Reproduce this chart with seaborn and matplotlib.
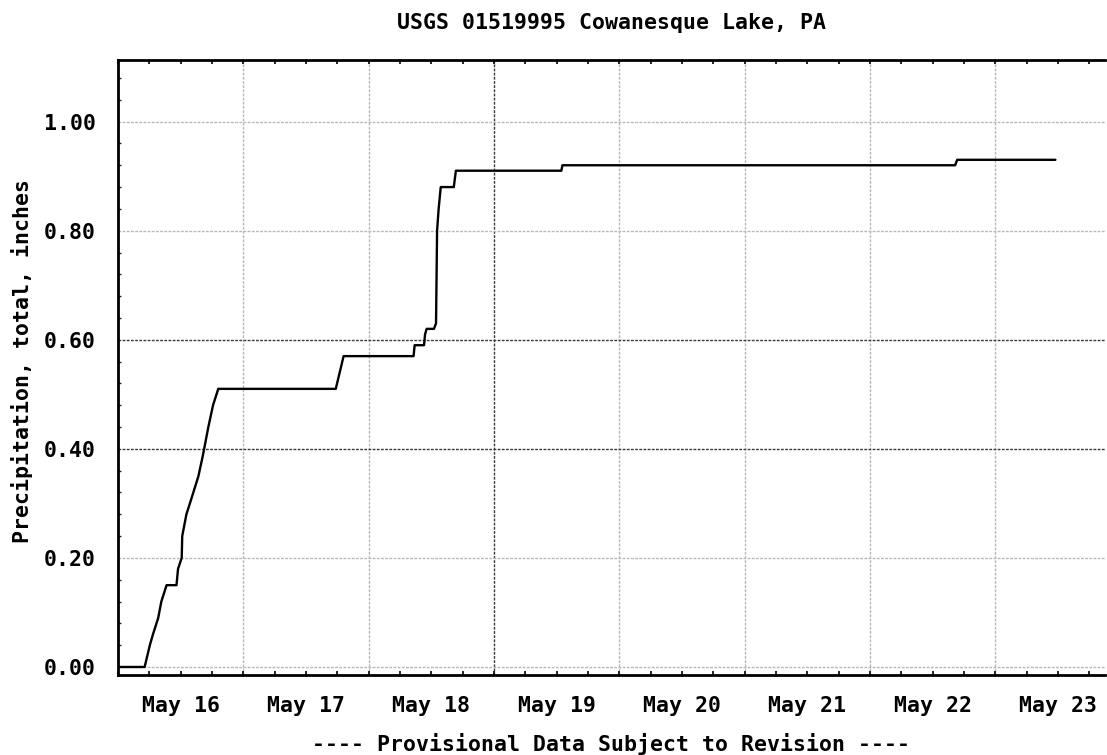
import matplotlib
matplotlib.use("Agg")
import matplotlib.pyplot as plt
import matplotlib.dates as mdates
from matplotlib.ticker import FuncFormatter, MultipleLocator, NullFormatter
import numpy as np
import pandas as pd
import seaborn as sns

# ---- data (hours after May 16 00:00, cumulative precipitation in inches) ----
hours = [0.0, 5.1, 6.1, 6.7, 7.7, 8.3, 9.3, 11.2, 11.5, 12.2, 12.3, 13.1, 14.1,
         15.4, 16.3, 17.3, 18.2, 19.2, 41.7, 42.2, 43.2, 56.6, 56.8, 58.6,
         58.8, 59.1, 60.5, 60.9, 61.1, 61.4, 61.8, 64.3, 64.7, 84.9, 85.1,
         160.3, 160.7, 179.5]
precip = [0.00, 0.00, 0.04, 0.06, 0.09, 0.12, 0.15, 0.15, 0.18, 0.20, 0.24, 0.28,
          0.31, 0.35, 0.39, 0.44, 0.48, 0.51, 0.51, 0.53, 0.57, 0.57, 0.59, 0.59,
          0.61, 0.62, 0.62, 0.63, 0.80, 0.84, 0.88, 0.88, 0.91, 0.91, 0.92,
          0.92, 0.93, 0.93]
start_date = "2013-05-16 00:00"
end_hours = 189.0
y_ticks = [0.0, 0.2, 0.4, 0.6, 0.8, 1.0]
title = "USGS 01519995 Cowanesque Lake, PA"
y_label = "Precipitation, total, inches"
x_label = "---- Provisional Data Subject to Revision ----"

base = pd.Timestamp(start_date)
df = pd.DataFrame({
    "time": base + pd.to_timedelta(hours, unit="h"),
    "precip": precip,
})

sns.set_theme(style="white")
plt.rcParams["font.family"] = ["DejaVu Sans Mono"]
plt.rcParams["font.weight"] = "bold"
plt.rcParams["text.color"] = "black"
plt.rcParams["axes.labelcolor"] = "black"

FS = 15.5
fig = plt.figure(figsize=(11.07, 7.55), dpi=100)
ax = fig.add_axes([118 / 1107, 1 - 675 / 755, (1105 - 118) / 1107, (675 - 60) / 755])

sns.lineplot(data=df, x="time", y="precip", color="black", linewidth=1.7, ax=ax)

ax.set_xlim(base, base + pd.Timedelta(hours=end_hours))
ax.set_ylim(-0.0147, 1.113)

# x axis: grid at midnight, tick marks every 6 h, labels at noon
ax.xaxis.set_major_locator(mdates.DayLocator())
ax.xaxis.set_major_formatter(NullFormatter())
ax.xaxis.set_minor_locator(mdates.HourLocator(byhour=[6, 12, 18]))
def fmt_x(v, pos):
    d = mdates.num2date(v)
    return d.strftime("%b %d") if d.hour == 12 else ""
ax.xaxis.set_minor_formatter(FuncFormatter(fmt_x))
ax.tick_params(axis="x", which="both", direction="in", length=3, width=1.2,
               top=True, bottom=True, labelsize=FS, pad=15, colors="black")
ax.grid(axis="x", which="major", color="#b8b8b8", linewidth=1.0, linestyle=(0, (2, 1)))

# y axis
ax.set_yticks(y_ticks)
ax.yaxis.set_major_formatter(FuncFormatter(lambda v, p: f"{v:.2f}"))
ax.yaxis.set_minor_locator(MultipleLocator(0.04))
ax.tick_params(axis="y", which="major", direction="in", length=4, width=1.2,
               labelsize=FS, pad=16, colors="black")
ax.tick_params(axis="y", which="minor", direction="in", length=2, width=1.0, left=True)
ax.grid(axis="y", which="major", color="#b8b8b8", linewidth=1.0, linestyle=(0, (2, 1)))

for lbl in (ax.get_xticklabels(minor=True) + ax.get_yticklabels()):
    lbl.set_fontweight("bold")

# darker grid lines as in the reference
for gl, val in zip(ax.get_ygridlines(), y_ticks):
    if val in (0.4, 0.6):
        gl.set_color("#3a3a3a")
day_ticks = ax.xaxis.get_majorticklocs()
for gl, v in zip(ax.get_xgridlines(), day_ticks):
    if mdates.num2date(v).day == 19:
        gl.set_color("#3a3a3a")

for side in ["left", "top", "bottom"]:
    ax.spines[side].set_color("black")
    ax.spines[side].set_linewidth(2.0)
ax.spines["right"].set_visible(False)

ax.set_title(title, fontsize=FS, fontweight="bold", pad=22, color="black")
ax.set_ylabel(y_label, fontsize=FS, fontweight="bold", color="black")
ax.yaxis.set_label_coords(-0.086, 0.51)
ax.set_xlabel(x_label, fontsize=FS, fontweight="bold", color="black")
ax.xaxis.set_label_coords(0.5, -0.094)

fig.savefig("out.png", dpi=100)
